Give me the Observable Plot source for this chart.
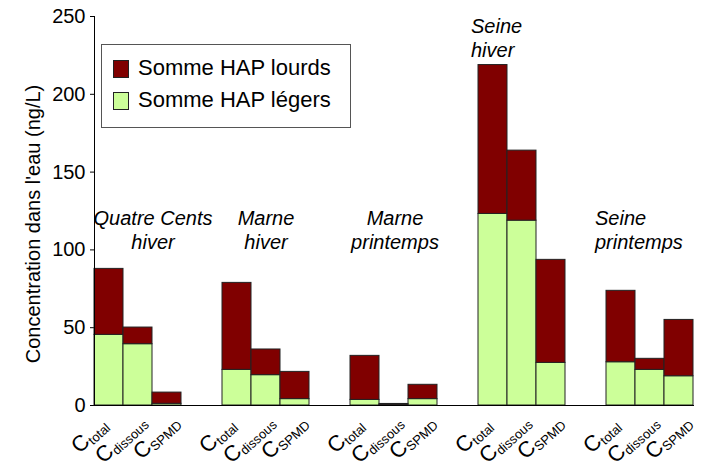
<!DOCTYPE html>
<html>
<head>
<meta charset="utf-8">
<script src="https://cdn.jsdelivr.net/npm/d3@7"></script>
<script src="https://cdn.jsdelivr.net/npm/@observablehq/plot@0.6"></script>
<style>
  body { margin: 0; background: #fff; }
  #wrap { position: relative; width: 702px; height: 468px; font-family: "Liberation Sans", Arial, sans-serif; }
  #legend { position: absolute; left: 101px; top: 44px; width: 250px; height: 84px; border: 1px solid #555; background: #fff; box-sizing: border-box; }
  .sw { position: absolute; left: 11px; width: 16px; height: 18px; border: 1px solid #222; box-sizing: border-box; }
  .lt { position: absolute; left: 36px; font-size: 22px; line-height: 22px; color: #000; white-space: nowrap; }
</style>
</head>
<body>
<div id="wrap"></div>
<script>
const groups = ["Quatre Cents hiver", "Marne hiver", "Marne printemps", "Seine hiver", "Seine printemps"];
const groupTitles = ["Quatre Cents\nhiver", "Marne\nhiver", "Marne\nprintemps", "Seine\nhiver", "Seine\nprintemps"];
const measures = ["total", "dissous", "SPMD"];
// per group: C_total, C_dissous, C_SPMD
const legers = [45.4, 39.4, 1.1,  22.9, 19.5, 4.1,  3.6, 0.4, 4.1,  123.1, 118.8, 27.4,  27.8, 22.9, 18.8];
const totals = [87.8, 50.1, 8.3,  78.8, 36.0, 21.6,  31.9, 1.0, 13.3,  218.8, 163.8, 93.6,  73.7, 30.0, 55.0];
const seriesNames = ["Somme HAP lourds", "Somme HAP légers"];
const seriesColors = ["#800000", "#ccff99"];
const yTicks = [0, 50, 100, 150, 200, 250];
const yTitle = "Concentration dans l'eau (ng/L)";

const rowsLegers = [], rowsLourds = [];
groups.forEach((g, gi) => measures.forEach((m, mi) => {
  const i = gi * 3 + mi;
  rowsLegers.push({group: g, measure: m, serie: seriesNames[1], value: legers[i]});
  rowsLourds.push({group: g, measure: m, serie: seriesNames[0], value: totals[i] - legers[i]});
}));
const rows = rowsLegers.concat(rowsLourds);
const cells = groups.flatMap(g => measures.map(m => ({group: g, measure: m})));

// layout of the rotated "C_sub" tick labels relative to each bar
const subLayout = {total: {dx: -16, dy: 40}, dissous: {dx: -21, dy: 50}, SPMD: {dx: -12, dy: 46}};
const labelMarks = measures.flatMap(m => {
  const L = subLayout[m];
  const data = cells.filter(c => c.measure === m);
  return [
    Plot.text(data, {fx: "group", x: "measure", frameAnchor: "bottom", text: () => "C", rotate: -42,
      textAnchor: "end", lineAnchor: "bottom", fontSize: 22, dx: L.dx - 2, dy: L.dy - 2}),
    Plot.text(data, {fx: "group", x: "measure", frameAnchor: "bottom", text: "measure", rotate: -42,
      textAnchor: "start", lineAnchor: "bottom", fontSize: 13, dx: L.dx, dy: L.dy})
  ];
});

// group titles
const titleLayout = [
  {x: "dissous", dx: 15, anchor: "middle", dy: 191},
  {x: "dissous", dx: 0, anchor: "middle", dy: 191},
  {x: "dissous", dx: 1, anchor: "middle", dy: 191},
  {x: "total", dx: -22, anchor: "start", dy: -1},
  {x: "total", dx: -26, anchor: "start", dy: 191}
];
const titleMarks = groups.map((g, gi) => {
  const T = titleLayout[gi];
  return Plot.text([{group: g, measure: T.x, t: groupTitles[gi]}], {
    fx: "group", x: "measure", frameAnchor: "top", text: "t", textAnchor: T.anchor, lineAnchor: "top",
    lineHeight: 1.2, fontSize: 20, fontStyle: "italic", dx: T.dx, dy: T.dy
  });
});

const chart = Plot.plot({
  width: 702,
  height: 468,
  marginLeft: 86,
  marginRight: 1,
  marginTop: 16,
  marginBottom: 63,
  style: {fontFamily: "'Liberation Sans', Arial, sans-serif", fontSize: "20px", color: "#000", background: "transparent"},
  fx: {domain: groups, paddingInner: 0.32, paddingOuter: 0.057, axis: null, label: null},
  x: {domain: measures, padding: 0, axis: null, label: null},
  y: {domain: [0, 250], ticks: yTicks, tickSize: 4, tickPadding: 5, label: null},
  color: {domain: seriesNames, range: seriesColors},
  marks: [
    Plot.barY(rows, {fx: "group", x: "measure", y: "value", fill: "serie", z: "serie", stroke: "#222", strokeWidth: 1}),
    Plot.frame({anchor: "bottom", facet: "super", stroke: "#000"}),
    Plot.frame({anchor: "left", facet: "super", stroke: "#000"}),
    Plot.text([yTitle], {facet: "super", frameAnchor: "left", rotate: -90, textAnchor: "middle", lineAnchor: "bottom",
      fontSize: 20, dx: -55, dy: 13}),
    ...labelMarks,
    ...titleMarks
  ]
});

const wrap = document.getElementById("wrap");
wrap.appendChild(chart);

// legend (HTML, over the plot area)
const legend = document.createElement("div");
legend.id = "legend";
seriesNames.forEach((name, i) => {
  const sw = document.createElement("div");
  sw.className = "sw";
  sw.style.top = (15 + i * 31.5) + "px";
  sw.style.background = seriesColors[i];
  const t = document.createElement("div");
  t.className = "lt";
  t.style.top = (12 + i * 31.5) + "px";
  t.textContent = name;
  legend.appendChild(sw);
  legend.appendChild(t);
});
wrap.appendChild(legend);
</script>
</body>
</html>
